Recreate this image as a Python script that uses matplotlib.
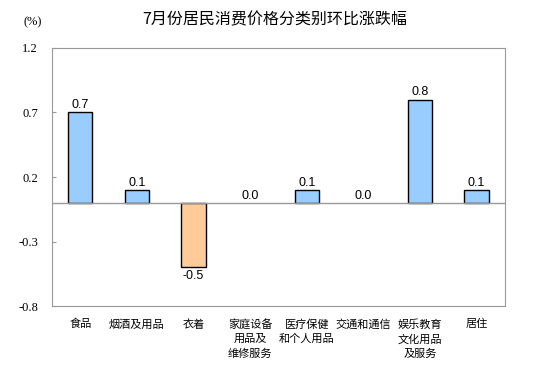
import numpy as np
import matplotlib.pyplot as plt

plt.rcParams['font.family'] = ['Noto Sans CJK SC', 'DejaVu Sans']

categories = ['食品', '烟酒及用品', '衣着', '家庭设备\n用品及\n维修服务', '医疗保健\n和个人用品',
              '交通和通信', '娱乐教育\n文化用品\n及服务', '居住']
values = [0.7, 0.1, -0.5, 0.0, 0.1, 0.0, 0.8, 0.1]
yticks = [-0.8, -0.3, 0.2, 0.7, 1.2]

fig = plt.figure(figsize=(5.5, 3.77), dpi=100)
ax = fig.add_axes([0.0945, 0.188, 0.8235, 0.685])

x = np.arange(len(values))
colors = ['#FFCC99' if v < 0 else '#99CCFF' for v in values]
edges = [1 if v != 0 else 0 for v in values]
ax.bar(x, values, width=0.43, color=colors, edgecolor='black', linewidth=edges, zorder=3)
ax.axhline(0, color='#999999', linewidth=1, zorder=4)

# 数值标签
for xi, v in zip(x, values):
    if v < 0:
        ax.text(xi, v - 0.02, f'{v:.1f}', ha='center', va='top', fontsize=9, family='Liberation Sans')
    else:
        ax.text(xi, v + 0.01, f'{v:.1f}', ha='center', va='bottom', fontsize=9, family='Liberation Sans')

ax.set_xlim(-0.5, len(values) - 0.5)
ax.set_ylim(-0.8, 1.2)
ax.set_yticks(yticks)
ax.set_yticklabels([f'{t:.1f}' for t in yticks], family='Liberation Serif', fontsize=9)
ax.tick_params(axis='y', direction='in', length=3, color='#999999', pad=10)
ax.set_xticks([])
for s in ax.spines.values():
    s.set_color('#999999')

for xi, c in zip(x, categories):
    ax.text(xi, -0.9, c, ha='center', va='top', fontsize=8, linespacing=1.5)

fig.text(0.5, 0.947, '7月份居民消费价格分类别环比涨跌幅', ha='center', va='center', fontsize=11.5)
fig.text(0.06, 0.942, '(%)', ha='center', va='center', fontsize=9, family='Liberation Serif')

fig.savefig('out.png', dpi=100)
